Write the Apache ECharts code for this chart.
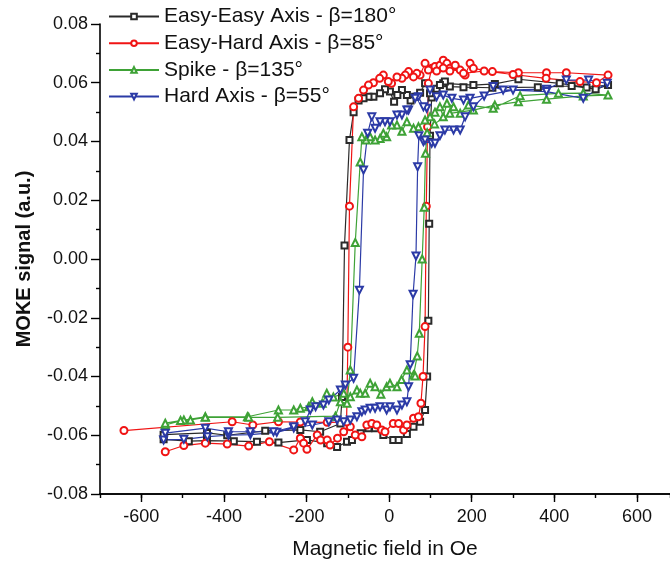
<!DOCTYPE html>
<html>
<head>
<meta charset="utf-8">
<script src="https://cdn.jsdelivr.net/npm/echarts@6/dist/echarts.min.js"></script>
<style>html,body{margin:0;padding:0;background:#fff;}#c{width:670px;height:565px;}</style>
</head>
<body>
<div id="c"></div>
<script>
// ---- data (field in Oe, MOKE signal in a.u.) ----
const seriesNames = ['Easy-Easy Axis - β=180°', 'Easy-Hard Axis - β=85°', 'Spike - β=135°', 'Hard Axis - β=55°'];

const easyEasyField = [-546,-485,-441,-376,-320,-268,-199,-150,-126,-102,-90,-69,-50,-34,-14,10,23,43,59,75,87,92,95,97,99,103,115,131,204,256,313,413,478,530,
  500,442,360,250,180,147,135,123,99,87,75,63,52,43,31,20,12,2,-10,-22,-38,-50,-62,-74,-86,-96,-108,-114,-118,-167,-215,-300,-392,-441,-546];
const easyEasySignal = [-0.0614,-0.062,-0.0618,-0.062,-0.0622,-0.0625,-0.0616,-0.0627,-0.064,-0.0622,-0.0616,-0.0593,-0.0576,-0.0576,-0.0599,-0.0616,-0.0616,-0.0596,-0.0571,-0.0554,-0.0514,-0.040,-0.021,0.012,0.042,0.055,0.058,0.0598,0.0592,0.0596,0.0612,0.0598,0.0584,0.0592,
  0.0578,0.0589,0.0585,0.0583,0.0585,0.0587,0.0604,0.0592,0.0564,0.0598,0.0566,0.0552,0.054,0.0558,0.0575,0.0558,0.0535,0.057,0.0578,0.0564,0.0552,0.0552,0.0547,0.054,0.050,0.0405,0.0046,-0.047,-0.056,-0.0588,-0.0582,-0.0585,-0.060,-0.0592,-0.0598];

const easyHardField = [-542,-497,-445,-392,-340,-290,-231,-215,-207,-199,-174,-166,-150,-143,-125,-110,-94,-82,-66,-54,-42,-30,-18,-10,10,23,35,43,59,71,77,82,87,90,93,95,103,111,123,131,140,147,160,172,184,196,204,250,313,381,429,530,
  502,462,380,300,230,180,160,147,131,115,95,87,75,67,59,47,39,31,19,6,-2,-14,-23,-38,-50,-62,-74,-86,-96,-100,-103,-150,-215,-268,-330,-380,-642];
const easyHardSignal = [-0.0656,-0.0635,-0.0627,-0.063,-0.0637,-0.0622,-0.065,-0.061,-0.0627,-0.0648,-0.0599,-0.0616,-0.0616,-0.0633,-0.061,-0.0588,-0.0571,-0.0599,-0.0605,-0.0565,-0.056,-0.0565,-0.0582,-0.0588,-0.056,-0.056,-0.0582,-0.0565,-0.0542,-0.0537,-0.0491,-0.040,-0.023,0.018,0.045,0.0598,0.0649,0.0655,0.066,0.0677,0.0666,0.0649,0.0655,0.0643,0.0626,0.0666,0.0649,0.0638,0.0634,0.0634,0.0634,0.0626,
  0.060,0.0604,0.0615,0.0628,0.064,0.0632,0.066,0.064,0.065,0.064,0.0643,0.0666,0.0626,0.0632,0.062,0.0638,0.0626,0.0615,0.062,0.0598,0.0604,0.0626,0.0615,0.060,0.0592,0.0575,0.0547,0.0518,0.018,-0.030,-0.0555,-0.0556,-0.0555,-0.0554,-0.0565,-0.0554,-0.0584];

const spikeField = [-542,-497,-445,-343,-268,-231,-215,-195,-186,-162,-151,-135,-110,-94,-78,-70,-58,-46,-34,-20,-6,2,19,30,43,59,63,68,73,80,85,88,92,110,147,204,256,313,381,470,530,
  470,410,317,252,192,172,156,140,131,123,111,99,87,71,59,43,31,19,6,-6,-14,-22,-34,-46,-56,-66,-70,-82,-94,-102,-118,-130,-270,-340,-445,-481,-505,-542];
const spikeSignal = [-0.0565,-0.0548,-0.0537,-0.0537,-0.0514,-0.0514,-0.0508,-0.0503,-0.0486,-0.0491,-0.0457,-0.047,-0.0457,-0.0469,-0.0446,-0.0457,-0.0457,-0.0423,-0.0435,-0.046,-0.0435,-0.0423,-0.0435,-0.041,-0.0378,-0.0395,-0.0398,-0.033,-0.0253,0.000,0.0176,0.036,0.043,0.046,0.0496,0.0507,0.0524,0.0535,0.0544,0.0555,0.0558,
  0.0565,0.0564,0.0556,0.0513,0.0524,0.0496,0.0518,0.053,0.0484,0.0518,0.050,0.0484,0.0473,0.045,0.0445,0.0467,0.0435,0.0456,0.0456,0.0416,0.0428,0.041,0.0405,0.0416,0.0405,0.0416,0.033,0.0056,-0.0378,-0.0491,-0.0486,-0.0535,-0.0539,-0.0539,-0.0539,-0.0548,-0.055,-0.0559];

const hardField = [-546,-497,-440,-389,-336,-272,-231,-186,-146,-126,-110,-94,-78,-66,-58,-46,-34,-22,-6,2,19,31,43,47,51,58,65,69,72,83,87,103,111,123,135,156,172,184,204,230,252,276,381,429,483,528,
  470,381,300,196,180,152,131,115,99,91,83,71,63,47,43,31,19,2,-10,-22,-34,-42,-52,-62,-72,-86,-106,-118,-146,-159,-178,-191,-203,-231,-280,-336,-389,-445,-542];
const hardSignal = [-0.0616,-0.0614,-0.0605,-0.060,-0.0598,-0.059,-0.0575,-0.0565,-0.0554,-0.0548,-0.0554,-0.0548,-0.0537,-0.052,-0.0514,-0.0508,-0.0508,-0.0503,-0.0514,-0.0503,-0.0514,-0.0497,-0.0486,-0.0435,-0.036,-0.012,0.001,0.0314,0.042,0.040,0.0405,0.0394,0.0394,0.042,0.0439,0.0439,0.0439,0.0484,0.0518,0.0555,0.0587,0.0575,0.0578,0.0609,0.0609,0.0598,
  0.0547,0.057,0.0575,0.0547,0.0541,0.0547,0.0558,0.0552,0.0575,0.0513,0.0518,0.0552,0.0547,0.0507,0.0507,0.049,0.049,0.0467,0.0467,0.0467,0.0445,0.0484,0.0428,0.0303,-0.0106,-0.0406,-0.0429,-0.0446,-0.048,-0.0497,-0.0503,-0.0514,-0.0554,-0.0571,-0.0588,-0.0588,-0.0588,-0.0576,-0.0593];

const xLabelValues = [-600,-400,-200,0,200,400,600];

// ---- build ----
function zip(a,b){ return a.map((v,i)=>[v,b[i]]); }
const FONT = '"Liberation Sans", Arial, sans-serif';
const colors = ['#2a2a2a','#f01414','#3ea236','#2b3aa6'];
const symbols = ['emptyRect','emptyCircle','emptyTriangle','emptyTriangle'];
const rotates = [0,0,0,180];
const sizes = [6,7,7,7];
const datas = [zip(easyEasyField,easyEasySignal), zip(easyHardField,easyHardSignal), zip(spikeField,spikeSignal), zip(hardField,hardSignal)];

const chart = echarts.init(document.getElementById('c'), null, {renderer:'canvas'});
chart.setOption({
  animation:false,
  backgroundColor:'#fff',
  textStyle:{fontFamily:FONT},
  grid:{left:100,right:0,top:24,bottom:71,containLabel:false},
  legend:{
    orient:'vertical', left:108, top:6, padding:0, itemGap:5.7,
    itemWidth:50, itemHeight:7,
    data:seriesNames,
    textStyle:{fontSize:21,lineHeight:21,color:'#111',fontFamily:FONT}
  },
  xAxis:[{
    type:'value', min:-700, max:680, position:'bottom',
    axisLine:{show:true,onZero:false,lineStyle:{color:'#000',width:1.6}},
    axisTick:{show:true,length:8,customValues:xLabelValues,lineStyle:{color:'#000',width:1.4}},
    axisLabel:{customValues:xLabelValues,fontSize:18,color:'#111',margin:14,fontFamily:FONT},
    splitLine:{show:false},
    name:'Magnetic field in Oe', nameLocation:'middle', nameGap:45,
    nameTextStyle:{fontSize:21,color:'#111',fontFamily:FONT}
  },{
    type:'value', min:-700, max:680, interval:100, position:'bottom',
    axisLine:{show:true,onZero:false,lineStyle:{color:'#000',width:1.6}},
    axisTick:{show:true,length:4,lineStyle:{color:'#000',width:1.4}},
    axisLabel:{show:false}, splitLine:{show:false}
  }],
  yAxis:{
    type:'value', min:-0.08, max:0.08, interval:0.02,
    axisLine:{show:true,onZero:false,lineStyle:{color:'#000',width:1.6}},
    axisTick:{show:true,length:9,lineStyle:{color:'#000',width:1.4}},
    minorTick:{show:true,splitNumber:2,length:4,lineStyle:{color:'#000',width:1.4}},
    axisLabel:{fontSize:18,color:'#111',margin:12,fontFamily:FONT,formatter:v=>v.toFixed(2)},
    splitLine:{show:false},
    name:'MOKE signal (a.u.)', nameLocation:'middle', nameGap:66,
    nameTextStyle:{fontSize:20,fontWeight:'bold',color:'#111',fontFamily:FONT}
  },
  series: seriesNames.map((n,i)=>({
    name:n, type:'line', xAxisIndex:0, data:datas[i],
    symbol:symbols[i], symbolRotate:rotates[i], symbolSize:sizes[i], showAllSymbol:true,
    lineStyle:{color:colors[i],width:1.2},
    itemStyle:{color:colors[i],borderWidth:1.2},
    emphasis:{disabled:true}
  }))
});
</script>
</body>
</html>
